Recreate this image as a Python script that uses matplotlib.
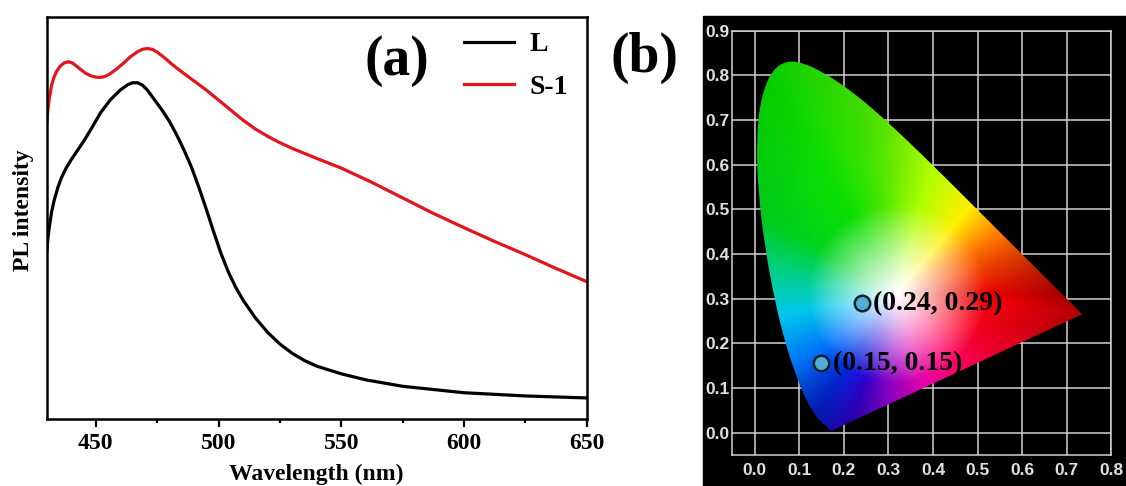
import matplotlib
matplotlib.use("Agg")
import matplotlib.pyplot as plt
import numpy as np
from matplotlib.patches import PathPatch, Rectangle
from matplotlib.path import Path

# (a) PL spectra, intensity in arbitrary units (0-100 of the axis height)
wl_L = [430, 430.5, 431, 432, 433, 434.5, 436, 438, 440, 442, 445, 448, 452,
        456, 460, 463, 465, 467, 469, 471, 474, 477, 480, 483, 486, 489, 492,
        495, 498, 501, 504, 507, 510, 515, 520, 525, 530, 535, 540, 550, 560,
        575, 600, 625, 650]
pl_L = [41.7, 45, 47.5, 51.5, 54.3, 57.5, 60, 62.5, 64.5, 66.3, 69, 72, 76.2,
        79.4, 81.8, 83.1, 83.6, 83.6, 83, 81.8, 79.3, 76.8, 74, 70.6, 66.8,
        62.6, 57.6, 52.2, 46.6, 41.2, 36.6, 32.8, 29.6, 25.2, 21.6, 18.7, 16.4,
        14.6, 13.2, 11.3, 9.8, 8.2, 6.6, 5.8, 5.3]

wl_S1 = [430, 430.5, 431, 432, 433, 434, 435.5, 437, 438.8, 440.5, 442, 444,
         446, 448, 450, 451.7, 453.5, 455.5, 458, 461, 464, 467, 469, 471, 473,
         475, 478, 481, 485, 489, 495, 500, 505, 510, 515, 520, 525, 530, 540,
         550, 562, 575, 587, 600, 612, 625, 637, 650]
pl_S1 = [73.5, 77, 79.5, 83, 85, 86.4, 87.7, 88.5, 88.8, 88.5, 87.8, 86.8,
         85.9, 85.3, 85, 84.9, 85.1, 85.7, 86.8, 88.3, 90, 91.3, 91.9, 92.1,
         91.9, 91.2, 89.8, 88.2, 86.3, 84.5, 81.8, 79.3, 76.8, 74.3, 72.1, 70.3,
         68.7, 67.3, 64.8, 62.4, 59, 55, 51.3, 47.6, 44.3, 40.9, 37.6, 34.2]

# (b) CIE 1931 spectral locus (380-700 nm, 5 nm steps)
locus_x = [0.1741, 0.1740, 0.1738, 0.1736, 0.1733, 0.1730, 0.1726, 0.1721,
           0.1714, 0.1703, 0.1689, 0.1669, 0.1644, 0.1611, 0.1566, 0.1510,
           0.1440, 0.1355, 0.1241, 0.1096, 0.0913, 0.0687, 0.0454, 0.0235,
           0.0082, 0.0039, 0.0139, 0.0389, 0.0743, 0.1142, 0.1547, 0.1929,
           0.2296, 0.2658, 0.3016, 0.3373, 0.3731, 0.4087, 0.4441, 0.4788,
           0.5125, 0.5448, 0.5752, 0.6029, 0.6270, 0.6482, 0.6658, 0.6801,
           0.6915, 0.7006, 0.7079, 0.7140, 0.7190, 0.7230, 0.7260, 0.7283,
           0.7300, 0.7311, 0.7320, 0.7327, 0.7334, 0.7340, 0.7344, 0.7346,
           0.7347]
locus_y = [0.0050, 0.0050, 0.0049, 0.0049, 0.0048, 0.0048, 0.0048, 0.0048,
           0.0051, 0.0058, 0.0069, 0.0086, 0.0109, 0.0138, 0.0177, 0.0227,
           0.0297, 0.0399, 0.0578, 0.0868, 0.1327, 0.2007, 0.2950, 0.4127,
           0.5384, 0.6548, 0.7502, 0.8120, 0.8338, 0.8262, 0.8059, 0.7816,
           0.7543, 0.7243, 0.6923, 0.6589, 0.6245, 0.5896, 0.5547, 0.5202,
           0.4866, 0.4544, 0.4242, 0.3965, 0.3725, 0.3514, 0.3340, 0.3197,
           0.3083, 0.2993, 0.2920, 0.2859, 0.2809, 0.2770, 0.2740, 0.2717,
           0.2700, 0.2689, 0.2680, 0.2673, 0.2666, 0.2660, 0.2656, 0.2654,
           0.2653]

cie_x = [0.24, 0.15]
cie_y = [0.29, 0.155]
cie_labels = ["(0.24, 0.29)", "(0.15, 0.15)"]

# hue seen around the white point of the chart (angle in degrees -> RGB),
# plus how much it darkens towards the edge
hue_angle = [0, 30, 50, 75, 100, 120, 150, 170, 190, 215, 235, 250, 265, 285,
             310, 335, 360]
hue_rgb = [(235, 0, 0), (255, 120, 0), (255, 240, 0), (175, 255, 0),
           (70, 230, 0), (10, 222, 0), (0, 212, 30), (0, 208, 140),
           (0, 200, 235), (0, 120, 255), (0, 40, 225), (50, 0, 210),
           (140, 0, 200), (225, 0, 170), (255, 0, 100), (250, 0, 35),
           (235, 0, 0)]
hue_dark = [0.3, 0.0, 0.0, 0.0, 0.05, 0.08, 0.05, 0.0, 0.0, 0.05, 0.25, 0.2,
            0.05, 0.0, 0.0, 0.1, 0.3]
white_xy = (0.32, 0.31)

plt.rcParams["font.family"] = ["Liberation Serif", "DejaVu Serif"]
plt.rcParams["font.weight"] = "bold"

W, H = 1126, 486
fig = plt.figure(figsize=(W / 100, H / 100), dpi=100)

# ---- panel (a)
ax1 = fig.add_axes([46.7 / W, 1 - 419.3 / H, 540 / W, 402.6 / H])
ax1.plot(wl_L, pl_L, color="black", lw=2.3, label="L")
ax1.plot(wl_S1, pl_S1, color="#e3141b", lw=2.3, label="S-1")
ax1.set_xlim(430, 650)
ax1.set_ylim(0, 100)
ax1.set_yticks([])
ax1.set_xticks([450, 500, 550, 600, 650])
ax1.set_xticks([475, 525, 575, 625], minor=True)
ax1.tick_params(axis="x", which="major", length=6, width=1.6, labelsize=17, pad=4)
ax1.tick_params(axis="x", which="minor", length=3, width=1.6)
for s in ax1.spines.values():
    s.set_linewidth(1.8)
ax1.set_xlabel("Wavelength (nm)", fontsize=17, fontweight="bold", labelpad=7)
ax1.set_ylabel("PL intensity", fontsize=17, fontweight="bold")
ax1.yaxis.set_label_coords(-0.024, 0.52)
ax1.legend(loc="upper right", bbox_to_anchor=(1.011, 1.024), frameon=False,
           fontsize=20, handlelength=1.8, handletextpad=0.55, labelspacing=0.6)

fig.text(397 / W, 1 - 61 / H, "(a)", fontsize=40, fontweight="bold",
         ha="center", va="center")
fig.text(644.5 / W, 1 - 58 / H, "(b)", fontsize=40, fontweight="bold",
         ha="center", va="center")

# ---- panel (b)
fig.add_artist(Rectangle((703.3 / W, 0), 1 - 703.3 / W, 1 - 16 / H,
                         transform=fig.transFigure, color="black", zorder=0))
ax2 = fig.add_axes([732.3 / W, 1 - 455 / H, 379 / W, 424.3 / H])
ax2.set_facecolor("black")
ax2.set_xlim(-0.05, 0.8)
ax2.set_ylim(-0.05, 0.9)
ax2.set_xticks(np.arange(0, 0.81, 0.1))
ax2.set_yticks(np.arange(0, 0.91, 0.1))
ax2.set_xticklabels([f"{v:.1f}" for v in np.arange(0, 0.81, 0.1)],
                    family="Liberation Sans", fontweight="bold")
ax2.set_yticklabels([f"{v:.1f}" for v in np.arange(0, 0.91, 0.1)],
                    family="Liberation Sans", fontweight="bold")
ax2.tick_params(length=0, labelcolor="#e0e0e0", labelsize=12.5)
ax2.tick_params(axis="x", pad=6)
ax2.tick_params(axis="y", pad=2)
ax2.grid(True, color="#d2d2d2", lw=1.1)
ax2.set_axisbelow(True)
for s in ax2.spines.values():
    s.set_color("#d2d2d2")
    s.set_linewidth(1.1)

# chart outline: quadratic segments through the locus table, closed by the purple line
pts = np.column_stack([locus_x, locus_y])
verts = [pts[0]]
codes = [Path.MOVETO]
for i in range(1, len(pts) - 1):
    verts += [pts[i], (pts[i] + pts[i + 1]) / 2]
    codes += [Path.CURVE3, Path.CURVE3]
verts += [pts[-1], pts[0], pts[0]]
codes += [Path.LINETO, Path.LINETO, Path.CLOSEPOLY]
outline_path = Path(verts, codes)

# colour image: hue from the angle around white, saturation from the distance
xw, yw = white_xy
edge = np.vstack([pts, np.linspace(pts[-1], pts[0], 60)])
e_ang = np.degrees(np.arctan2(edge[:, 1] - yw, edge[:, 0] - xw)) % 360
e_dist = np.hypot(edge[:, 0] - xw, edge[:, 1] - yw)
order = np.argsort(e_ang)

gx = np.linspace(-0.05, 0.8, 850)
gy = np.linspace(-0.05, 0.9, 950)
X, Y = np.meshgrid(gx, gy)
ang = np.degrees(np.arctan2(Y - yw, X - xw)) % 360
dist = np.hypot(X - xw, Y - yw)
rmax = np.interp(ang, e_ang[order], e_dist[order], period=360)
sat = np.clip(dist / 0.2, 0, 1) ** 1.15
hue = np.array(hue_rgb) / 255.0
col = np.stack([np.interp(ang, hue_angle, hue[:, k]) for k in range(3)], axis=-1)
rgb = 1 - sat[..., None] * (1 - col)
dark = np.interp(ang, hue_angle, hue_dark) * np.clip((dist / rmax - 0.6) / 0.4, 0, 1)
rgb = np.clip(rgb * (1 - dark[..., None]), 0, 1)

im = ax2.imshow(rgb, origin="lower", extent=(-0.05, 0.8, -0.05, 0.9),
                aspect="auto", zorder=1, interpolation="bilinear")
outline = PathPatch(outline_path, facecolor="none", edgecolor="none",
                    transform=ax2.transData)
ax2.add_patch(outline)
im.set_clip_path(outline)

ax2.scatter(cie_x, cie_y, s=125, c="#4db0d3", edgecolors="#16212b",
            linewidths=1.8, zorder=3)
for x, y, lab in zip(cie_x, cie_y, cie_labels):
    ax2.annotate(lab, (x, y), xytext=(8, 0), textcoords="offset points",
                 ha="left", va="center", fontsize=20, fontweight="bold",
                 color="black", zorder=4)

fig.savefig("out.png", dpi=100)
